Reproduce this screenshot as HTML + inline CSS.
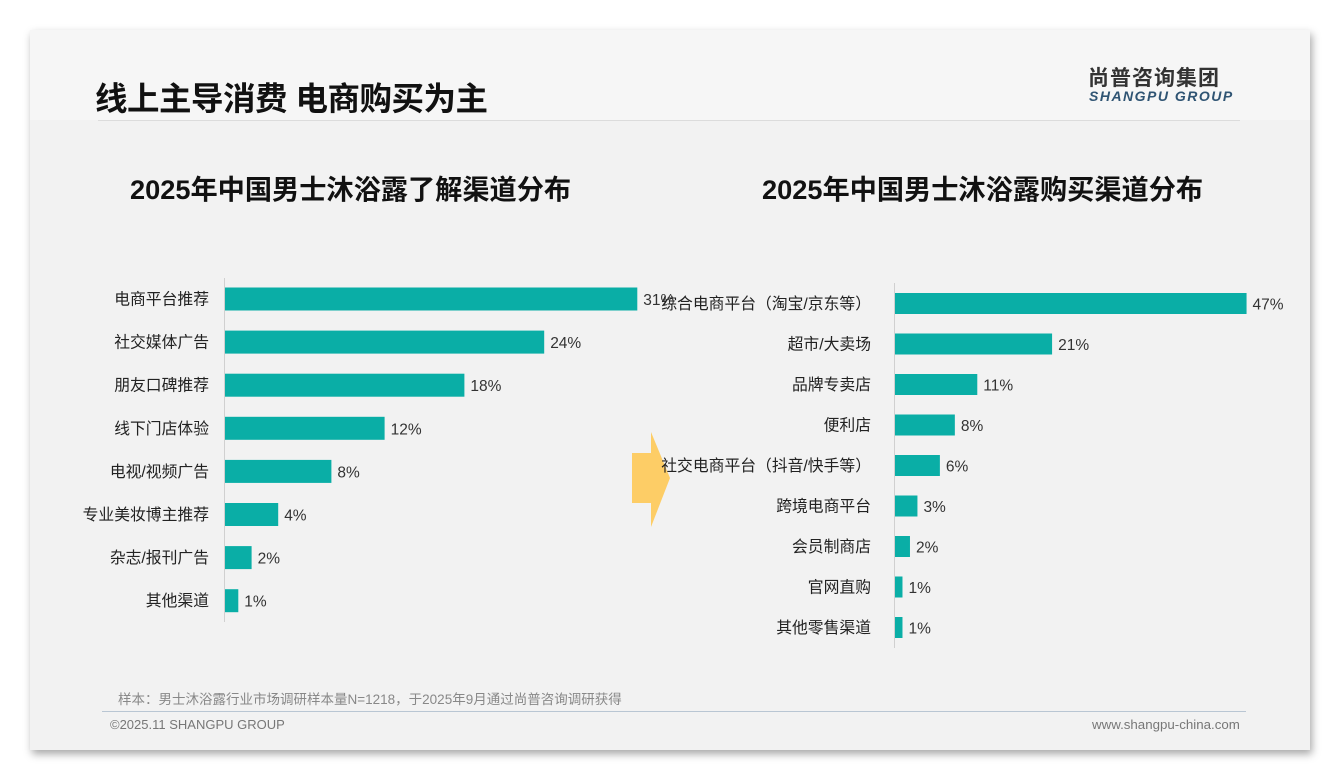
<!DOCTYPE html>
<html><head><meta charset="utf-8">
<style>
body{margin:0;width:1340px;height:780px;background:#fff;font-family:"Liberation Sans","Noto Sans CJK SC",sans-serif;position:relative;overflow:hidden}
.card{position:absolute;left:30px;top:30px;width:1280px;height:720px;background:#f2f2f2;box-shadow:2px 4px 8px rgba(0,0,0,0.35)}
.hdr{position:absolute;left:0;top:0;width:1280px;height:90px;background:#f6f6f6}
.abs{position:absolute;white-space:nowrap}
</style></head><body>
<div class="card">
<div class="hdr"></div>
</div>
<div class="abs" style="left:95px;top:73px;font-size:32.5px;font-weight:bold;color:#111;letter-spacing:-0.5px">线上主导消费 电商购买为主</div>
<div class="abs" style="left:1088px;top:62px;font-size:21px;font-weight:bold;color:#333;letter-spacing:1px">尚普咨询集团</div>
<div class="abs" style="left:1089px;top:88px;font-size:14px;font-weight:bold;font-style:italic;color:#2f5473;letter-spacing:1.5px">SHANGPU GROUP</div>
<div class="abs" style="left:98px;top:120px;width:1142px;height:1px;background:#dcdcdc"></div>
<div class="abs" style="left:130px;top:167px;font-size:27.2px;font-weight:bold;color:#111">2025年中国男士沐浴露了解渠道分布</div>
<div class="abs" style="left:762px;top:167px;font-size:27.2px;font-weight:bold;color:#111">2025年中国男士沐浴露购买渠道分布</div>
<svg class="abs" style="left:0;top:0" width="1340" height="780">
<polygon points="632,453 651,453 651,432 670,478 651,527 651,503 632,503" fill="#fdcd66"/>
<g id="left"></g><g id="right"></g>
</svg>
<div class="abs" style="left:118px;top:688px;font-size:13.5px;color:#888">样本：男士沐浴露行业市场调研样本量N=1218，于2025年9月通过尚普咨询调研获得</div>
<div class="abs" style="left:102px;top:711px;width:1144px;height:1px;background:#b9c6d3"></div>
<div class="abs" style="left:110px;top:717px;font-size:13px;color:#777">©2025.11 SHANGPU GROUP</div>
<div class="abs" style="left:1092px;top:717px;font-size:13.3px;color:#777">www.shangpu-china.com</div>
<script>
const leftCats=["电商平台推荐","社交媒体广告","朋友口碑推荐","线下门店体验","电视/视频广告","专业美妆博主推荐","杂志/报刊广告","其他渠道"];
const leftVals=[31,24,18,12,8,4,2,1];
const rightCats=["综合电商平台（淘宝/京东等）","超市/大卖场","品牌专卖店","便利店","社交电商平台（抖音/快手等）","跨境电商平台","会员制商店","官网直购","其他零售渠道"];
const rightVals=[47,21,11,8,6,3,2,1,1];
const NS="http://www.w3.org/2000/svg";
function mk(t,a,p){const e=document.createElementNS(NS,t);for(const k in a)e.setAttribute(k,a[k]);p.appendChild(e);return e;}
function draw(g,cats,vals,x0,xs,y0,pitch,bh,top,bottom,labelX){
  const xScale=v=>x0+v*xs, yScale=i=>y0+i*pitch;
  const ax=mk('line',{x1:x0-0.5,x2:x0-0.5,y1:top,y2:bottom,stroke:'#d0d0d0','stroke-width':1},g);
  
  cats.forEach((c,i)=>{
    const y=yScale(i);
    const r=mk('rect',{x:x0,y:y-bh/2,width:xScale(vals[i])-x0,height:bh,fill:'#0aaea6'},g);
    
    const l=mk('text',{x:labelX,y:y+5.5,'text-anchor':'end','font-size':15.8,fill:'#222'},g);l.textContent=c;
    
    const v=mk('text',{x:xScale(vals[i])+6,y:y+6,'font-size':15.5,fill:'#333'},g);v.textContent=vals[i]+'%';
    
  });
}
draw(document.getElementById('left'),leftCats,leftVals,225,13.3,299,43.1,23,278,622,209);
draw(document.getElementById('right'),rightCats,rightVals,895,7.48,303.5,40.5,21,283,648,871);
</script>
</body></html>
